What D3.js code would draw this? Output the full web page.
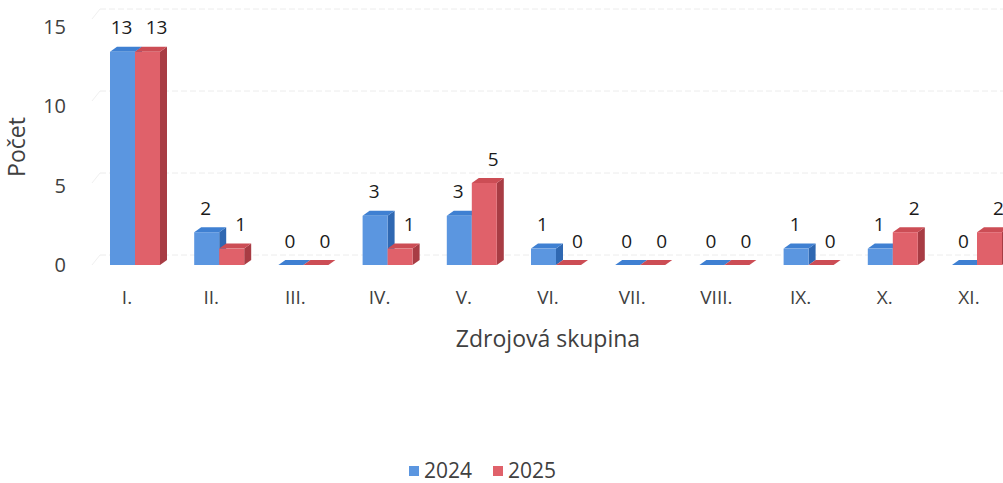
<!DOCTYPE html>
<html><head><meta charset="utf-8">
<script src="https://cdn.jsdelivr.net/npm/d3@7"></script>
<style>body{margin:0;background:#fff;} svg{display:block;font-family:"Open Sans",sans-serif;}</style>
</head><body>
<svg id="c" width="1003" height="483"></svg>
<script>
const categories = ["I.","II.","III.","IV.","V.","VI.","VII.","VIII.","IX.","X.","XI."];
const series2024 = [13,2,0,3,3,1,0,0,1,1,0];
const series2025 = [13,1,0,1,5,0,0,0,0,2,2];
const yTicks = [0,5,10,15];
const seriesNames = ["2024","2025"];

const svg = d3.select("#c");
const W = 1003, H = 483;
const front = {dx:7, dy:-5};
const wall = {dx:8, dy:-10};
const colors = [
  {front:"#5b96e0", top:"#3f80d2", side:"#2f68b2"},
  {front:"#e0616a", top:"#cc4d55", side:"#a83c44"}
];

const x = d3.scaleBand().domain(categories).range([92.9, 92.9 + 84.2*categories.length]).paddingInner(0).paddingOuter(0);
const y = d3.scaleLinear().domain([0,15]).range([265, 19]);
const yLabel = d3.scaleLinear().domain([0,15]).range([265, 27]);
const barW = 25;

// back wall gridlines
const g = svg.append("g");
yTicks.forEach(t => {
  g.append("line").attr("x1", 100).attr("x2", W).attr("y1", y(t)+wall.dy).attr("y2", y(t)+wall.dy)
    .attr("stroke", "#ececec").attr("stroke-width", 1).attr("stroke-dasharray","6,3");
  g.append("line").attr("x1", 92).attr("x2", 100).attr("y1", y(t)).attr("y2", y(t)+wall.dy)
    .attr("stroke", "#f0f0f0").attr("stroke-width", 1);
});

// y tick labels
svg.append("g").selectAll("text").data(yTicks).join("text")
  .attr("x", 66).attr("y", d => yLabel(d)).attr("dy","0.35em").attr("text-anchor","end")
  .attr("font-size", 20).attr("fill", "#404040").text(d => d);

// y title
svg.append("text").attr("transform","translate(25,147) rotate(-90)").attr("text-anchor","middle")
  .attr("font-size", 23).attr("fill","#404040").text("Počet");

// bars
const data = [series2024, series2025];
const bars = svg.append("g");
categories.forEach((c, i) => {
  data.forEach((s, k) => {
    const v = s[i];
    const cx = x(c) + x.bandwidth()/2;
    const x0 = cx + (k === 0 ? -barW : 0);
    const x1 = x0 + barW;
    const yt = y(v), yb = y(0);
    const col = colors[k];
    bars.append("path").attr("d", `M${x1},${yb}L${x1+front.dx},${yb+front.dy}L${x1+front.dx},${yt+front.dy}L${x1},${yt}Z`).attr("fill", col.side);
    bars.append("path").attr("d", `M${x0},${yt}L${x0+front.dx},${yt+front.dy}L${x1+front.dx},${yt+front.dy}L${x1},${yt}Z`).attr("fill", col.top);
    if (v > 0) bars.append("rect").attr("x", x0).attr("y", yt).attr("width", barW).attr("height", yb-yt).attr("fill", col.front);
  });
});

// value labels
const lab = svg.append("g");
categories.forEach((c, i) => {
  data.forEach((s, k) => {
    const v = s[i];
    const cx = x(c) + x.bandwidth()/2;
    const lx = k === 0 ? cx - barW/2 - 1 : cx + barW/2 + 9;
    lab.append("text").attr("x", lx).attr("y", y(v) - 24).attr("dy","0.35em").attr("text-anchor","middle")
      .attr("font-size", 19).attr("fill","#1a1a1a").text(v);
  });
});

// category labels
svg.append("g").selectAll("text").data(categories).join("text")
  .attr("x", d => x(d) + x.bandwidth()/2 - 8).attr("y", 297).attr("dy","0.35em").attr("text-anchor","middle")
  .attr("font-size", 19).attr("fill","#404040").text(d => d);

// x title
svg.append("text").attr("x", 548).attr("y", 339).attr("dy","0.35em").attr("text-anchor","middle")
  .attr("font-size", 23).attr("fill","#404040").text("Zdrojová skupina");

// legend
const leg = svg.append("g");
const legX = [409, 493];
seriesNames.forEach((n, k) => {
  leg.append("rect").attr("x", legX[k]).attr("y", 466).attr("width", 10).attr("height", 10).attr("fill", colors[k].front);
  leg.append("text").attr("x", legX[k] + 15).attr("y", 471).attr("dy","0.35em").attr("font-size", 21).attr("fill","#404040").text(n);
});
</script>
</body></html>
